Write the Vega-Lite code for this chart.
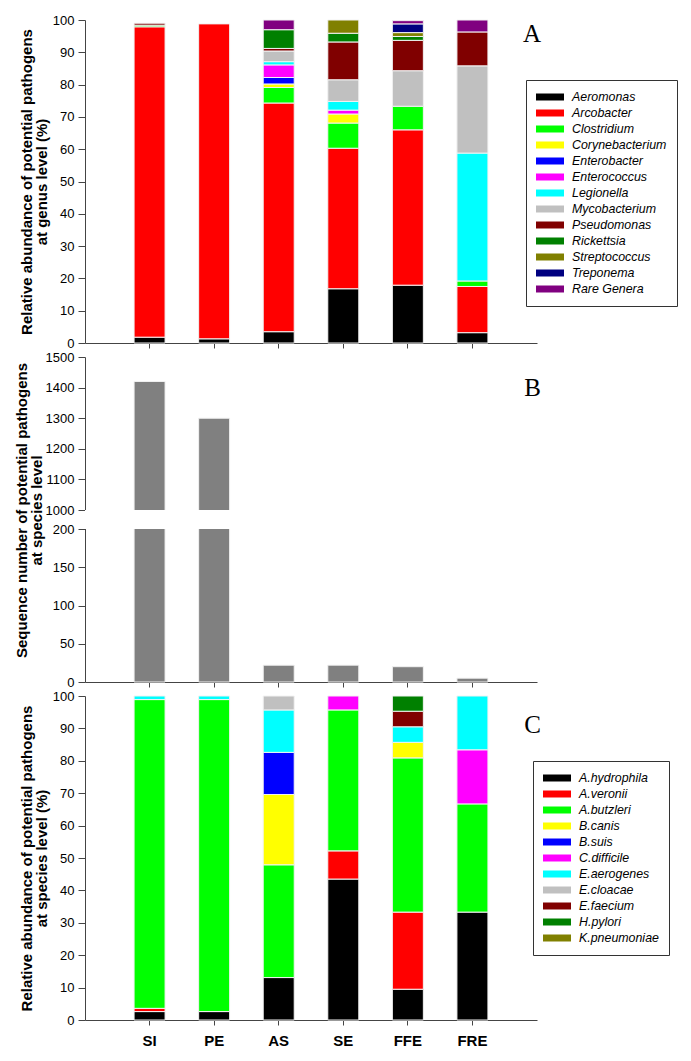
{
  "$schema": "https://vega.github.io/schema/vega-lite/v6.json",
  "padding": {"left": 14, "top": 14, "right": 5, "bottom": 5},
  "background": "white",
  "bounds": "flush",
  "spacing": 14,
  "datasets": {
    "genus": [
      {"site": "SI", "genus": "Aeromonas", "pct": 1.8},
      {"site": "SI", "genus": "Arcobacter", "pct": 96.1},
      {"site": "SI", "genus": "Clostridium", "pct": 0.5},
      {"site": "SI", "genus": "Pseudomonas", "pct": 0.6},
      {"site": "PE", "genus": "Aeromonas", "pct": 1.3},
      {"site": "PE", "genus": "Arcobacter", "pct": 97.5},
      {"site": "AS", "genus": "Aeromonas", "pct": 3.5},
      {"site": "AS", "genus": "Arcobacter", "pct": 70.8},
      {"site": "AS", "genus": "Clostridium", "pct": 4.8},
      {"site": "AS", "genus": "Corynebacterium", "pct": 1.1},
      {"site": "AS", "genus": "Enterobacter", "pct": 2.0},
      {"site": "AS", "genus": "Enterococcus", "pct": 3.9},
      {"site": "AS", "genus": "Legionella", "pct": 1.0},
      {"site": "AS", "genus": "Mycobacterium", "pct": 3.3},
      {"site": "AS", "genus": "Pseudomonas", "pct": 0.8},
      {"site": "AS", "genus": "Rickettsia", "pct": 5.8},
      {"site": "AS", "genus": "Rare Genera", "pct": 3.0},
      {"site": "SE", "genus": "Aeromonas", "pct": 16.8},
      {"site": "SE", "genus": "Arcobacter", "pct": 43.5},
      {"site": "SE", "genus": "Clostridium", "pct": 7.8},
      {"site": "SE", "genus": "Corynebacterium", "pct": 2.8},
      {"site": "SE", "genus": "Enterococcus", "pct": 1.2},
      {"site": "SE", "genus": "Legionella", "pct": 2.7},
      {"site": "SE", "genus": "Mycobacterium", "pct": 6.7},
      {"site": "SE", "genus": "Pseudomonas", "pct": 11.7},
      {"site": "SE", "genus": "Rickettsia", "pct": 2.7},
      {"site": "SE", "genus": "Streptococcus", "pct": 4.1},
      {"site": "FFE", "genus": "Aeromonas", "pct": 17.9},
      {"site": "FFE", "genus": "Arcobacter", "pct": 48.1},
      {"site": "FFE", "genus": "Clostridium", "pct": 7.3},
      {"site": "FFE", "genus": "Mycobacterium", "pct": 11.0},
      {"site": "FFE", "genus": "Pseudomonas", "pct": 9.4},
      {"site": "FFE", "genus": "Rickettsia", "pct": 1.2},
      {"site": "FFE", "genus": "Streptococcus", "pct": 1.2},
      {"site": "FFE", "genus": "Treponema", "pct": 2.7},
      {"site": "FFE", "genus": "Rare Genera", "pct": 1.0},
      {"site": "FRE", "genus": "Aeromonas", "pct": 3.2},
      {"site": "FRE", "genus": "Arcobacter", "pct": 14.3},
      {"site": "FRE", "genus": "Clostridium", "pct": 1.7},
      {"site": "FRE", "genus": "Legionella", "pct": 39.6},
      {"site": "FRE", "genus": "Mycobacterium", "pct": 27.0},
      {"site": "FRE", "genus": "Pseudomonas", "pct": 10.5},
      {"site": "FRE", "genus": "Rare Genera", "pct": 3.7}
    ],
    "genusOrder": [
      {"genus": "Aeromonas", "k": 1},
      {"genus": "Arcobacter", "k": 2},
      {"genus": "Clostridium", "k": 3},
      {"genus": "Corynebacterium", "k": 4},
      {"genus": "Enterobacter", "k": 5},
      {"genus": "Enterococcus", "k": 6},
      {"genus": "Legionella", "k": 7},
      {"genus": "Mycobacterium", "k": 8},
      {"genus": "Pseudomonas", "k": 9},
      {"genus": "Rickettsia", "k": 10},
      {"genus": "Streptococcus", "k": 11},
      {"genus": "Treponema", "k": 12},
      {"genus": "Rare Genera", "k": 13}
    ],
    "count": [
      {"site": "SI", "count": 1420},
      {"site": "PE", "count": 1300},
      {"site": "AS", "count": 22},
      {"site": "SE", "count": 22},
      {"site": "FFE", "count": 20},
      {"site": "FRE", "count": 5}
    ],
    "species": [
      {"site": "SI", "species": "A.hydrophila", "pct": 2.6},
      {"site": "SI", "species": "A.veronii", "pct": 1.0},
      {"site": "SI", "species": "A.butzleri", "pct": 95.3},
      {"site": "SI", "species": "E.aerogenes", "pct": 1.1},
      {"site": "PE", "species": "A.hydrophila", "pct": 2.6},
      {"site": "PE", "species": "A.butzleri", "pct": 96.3},
      {"site": "PE", "species": "E.aerogenes", "pct": 1.1},
      {"site": "AS", "species": "A.hydrophila", "pct": 13.1},
      {"site": "AS", "species": "A.butzleri", "pct": 34.8},
      {"site": "AS", "species": "B.canis", "pct": 21.7},
      {"site": "AS", "species": "B.suis", "pct": 13.0},
      {"site": "AS", "species": "E.aerogenes", "pct": 13.1},
      {"site": "AS", "species": "E.cloacae", "pct": 4.3},
      {"site": "SE", "species": "A.hydrophila", "pct": 43.5},
      {"site": "SE", "species": "A.veronii", "pct": 8.7},
      {"site": "SE", "species": "A.butzleri", "pct": 43.5},
      {"site": "SE", "species": "C.difficile", "pct": 4.3},
      {"site": "FFE", "species": "A.hydrophila", "pct": 9.5},
      {"site": "FFE", "species": "A.veronii", "pct": 23.8},
      {"site": "FFE", "species": "A.butzleri", "pct": 47.6},
      {"site": "FFE", "species": "B.canis", "pct": 4.8},
      {"site": "FFE", "species": "E.aerogenes", "pct": 4.8},
      {"site": "FFE", "species": "E.faecium", "pct": 4.8},
      {"site": "FFE", "species": "H.pylori", "pct": 4.7},
      {"site": "FRE", "species": "A.hydrophila", "pct": 33.3},
      {"site": "FRE", "species": "A.butzleri", "pct": 33.4},
      {"site": "FRE", "species": "C.difficile", "pct": 16.7},
      {"site": "FRE", "species": "E.aerogenes", "pct": 16.6}
    ],
    "speciesOrder": [
      {"species": "A.hydrophila", "k": 1},
      {"species": "A.veronii", "k": 2},
      {"species": "A.butzleri", "k": 3},
      {"species": "B.canis", "k": 4},
      {"species": "B.suis", "k": 5},
      {"species": "C.difficile", "k": 6},
      {"species": "E.aerogenes", "k": 7},
      {"species": "E.cloacae", "k": 8},
      {"species": "E.faecium", "k": 9},
      {"species": "H.pylori", "k": 10},
      {"species": "K.pneumoniae", "k": 11}
    ]
  },
  "config": {
    "font": "Liberation Sans",
    "view": {"stroke": null},
    "axis": {
      "grid": false,
      "domainColor": "#444",
      "tickColor": "#444",
      "domainWidth": 1,
      "tickWidth": 1,
      "labelFont": "Liberation Sans",
      "labelFontSize": 13,
      "labelColor": "black",
      "labelOverlap": false,
      "titleFont": "Liberation Sans",
      "titleFontSize": 15,
      "titleFontWeight": "bold",
      "titleColor": "black",
      "titleLineHeight": 15.5,
      "titleBaseline": "middle"
    },
    "axisY": {"tickSize": 7, "labelPadding": 4, "format": "d"},
    "axisX": {"tickSize": 5, "labelPadding": 8, "labelAngle": 0, "labelFontSize": 15, "labelFontWeight": "bold"},
    "legend": {
      "orient": "none",
      "title": null,
      "symbolType": "M-2,-0.5H2V0.5H-2Z",
      "symbolSize": 196,
      "symbolStrokeWidth": 0,
      "symbolOffset": 7,
      "labelOffset": 15,
      "labelFont": "Liberation Sans",
      "labelFontStyle": "italic",
      "labelColor": "black",
      "strokeColor": "#333",
      "fillColor": "white",
      "padding": 10,
      "rowPadding": 2
    },
    "title": {"font": "Liberation Serif", "fontSize": 25, "fontWeight": "normal", "color": "black", "anchor": "end", "frame": "group", "baseline": "alphabetic"}
  },
  "resolve": {"scale": {"y": "independent", "color": "independent"}, "legend": {"color": "independent"}},
  "vconcat": [
    {
      "width": 452,
      "height": 323,
      "data": {"name": "genus"},
      "transform": [{"lookup": "genus", "from": {"data": {"name": "genusOrder"}, "key": "genus", "fields": ["k"]}}],
      "title": {"text": "A", "offset": -33, "dx": 4},
      "mark": {"type": "bar", "stroke": "#f2f2f2", "strokeWidth": 1},
      "encoding": {
        "x": {"field": "site", "type": "nominal", "scale": {"domain": ["SI", "PE", "AS", "SE", "FFE", "FRE"], "paddingInner": 0.52, "paddingOuter": 0.76}, "axis": {"labels": false, "title": null}},
        "y": {"field": "pct", "type": "quantitative", "stack": "zero", "scale": {"domain": [0, 100], "nice": false}, "axis": {"values": [0, 10, 20, 30, 40, 50, 60, 70, 80, 90, 100], "tickCount": 20, "title": ["Relative abundance of potential pathogens", "at genus level (%)"], "titleX": -59}},
        "order": {"field": "k", "type": "quantitative", "sort": "ascending"},
        "color": {
          "field": "genus", "type": "nominal",
          "scale": {
            "domain": ["Aeromonas", "Arcobacter", "Clostridium", "Corynebacterium", "Enterobacter", "Enterococcus", "Legionella", "Mycobacterium", "Pseudomonas", "Rickettsia", "Streptococcus", "Treponema", "Rare Genera"],
            "range": ["#000000", "#ff0000", "#00ff00", "#ffff00", "#0000ff", "#ff00ff", "#00ffff", "#c0c0c0", "#800000", "#008000", "#808000", "#000080", "#800080"]
          },
          "legend": {"legendX": 441, "legendY": 60, "labelFontSize": 12.4}
        }
      }
    },
    {
      "width": 452,
      "height": 325,
      "data": {"name": "count"},
      "title": {"text": "B", "offset": -50, "dx": 4},
      "layer": [
        {
          "mark": {"type": "bar", "color": "#808080", "stroke": "#f2f2f2", "strokeWidth": 1},
          "encoding": {
            "x": {"field": "site", "type": "nominal", "scale": {"domain": ["SI", "PE", "AS", "SE", "FFE", "FRE"], "paddingInner": 0.52, "paddingOuter": 0.76}, "axis": {"labels": false, "title": null}},
            "y": {"field": "count", "type": "quantitative", "scale": {"domain": [0, 200, 1000, 1500], "range": [325, 172, 153, 0], "nice": false, "zero": false}, "axis": {"values": [0, 50, 100, 150, 200, 1000, 1100, 1200, 1300, 1400, 1500], "tickCount": 20, "title": ["Sequence number of potential pathogens", "at species level"], "titleX": -64, "titleY": 153}}
          }
        },
        {
          "mark": {"type": "rect", "color": "white"},
          "encoding": {
            "y": {"datum": 200, "type": "quantitative"},
            "y2": {"datum": 1000}
          }
        }
      ]
    },
    {
      "width": 452,
      "height": 324,
      "data": {"name": "species"},
      "transform": [{"lookup": "species", "from": {"data": {"name": "speciesOrder"}, "key": "species", "fields": ["k"]}}],
      "title": {"text": "C", "offset": -48, "dx": 4},
      "mark": {"type": "bar", "stroke": "#f2f2f2", "strokeWidth": 1},
      "encoding": {
        "x": {"field": "site", "type": "nominal", "scale": {"domain": ["SI", "PE", "AS", "SE", "FFE", "FRE"], "paddingInner": 0.52, "paddingOuter": 0.76}, "axis": {"title": null}},
        "y": {"field": "pct", "type": "quantitative", "stack": "zero", "scale": {"domain": [0, 100], "nice": false}, "axis": {"values": [0, 10, 20, 30, 40, 50, 60, 70, 80, 90, 100], "tickCount": 20, "title": ["Relative abundance of potential pathogens", "at species level (%)"], "titleX": -59}},
        "order": {"field": "k", "type": "quantitative", "sort": "ascending"},
        "color": {
          "field": "species", "type": "nominal",
          "scale": {
            "domain": ["A.hydrophila", "A.veronii", "A.butzleri", "B.canis", "B.suis", "C.difficile", "E.aerogenes", "E.cloacae", "E.faecium", "H.pylori", "K.pneumoniae"],
            "range": ["#000000", "#ff0000", "#00ff00", "#ffff00", "#0000ff", "#ff00ff", "#00ffff", "#c0c0c0", "#800000", "#008000", "#808000"]
          },
          "legend": {"legendX": 448, "legendY": 65, "labelFontSize": 12.4}
        }
      }
    }
  ]
}
